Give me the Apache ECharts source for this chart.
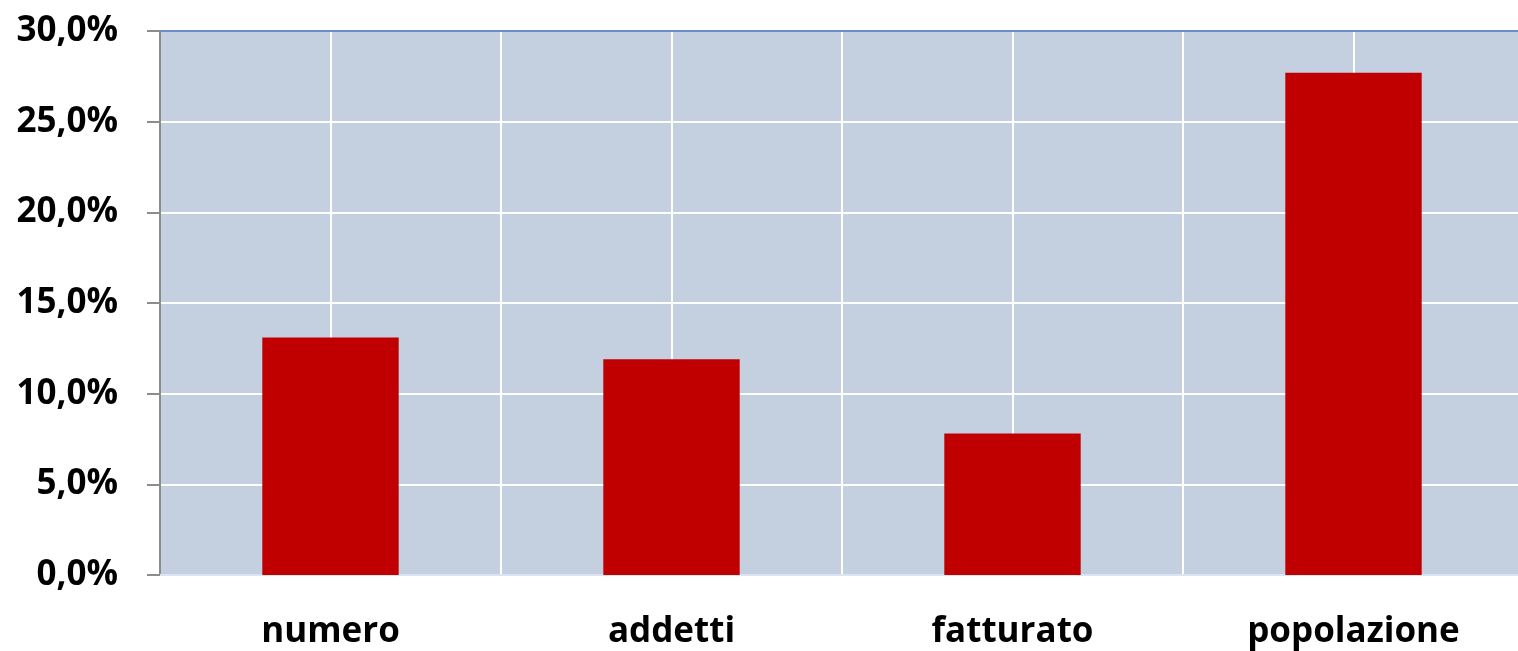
<!DOCTYPE html>
<html>
<head>
<meta charset="utf-8">
<script src="https://cdn.jsdelivr.net/npm/echarts@6/dist/echarts.min.js"></script>
<style>
  html, body { margin: 0; padding: 0; background: #fff; overflow: hidden; }
  #chart { width: 1524px; height: 651px; }
</style>
</head>
<body>
<div id="chart"></div>
<script>
// categories and values (percent)
const categories = ["numero", "addetti", "fatturato", "popolazione"];
const values = [13.1, 11.9, 7.8, 27.7];
// half-category slots, only used to draw vertical grid lines
const halfSlots = ["a", "b", "c", "d", "e", "f", "g", "h"];

const myChart = echarts.init(document.getElementById("chart"));
const labelFont = { fontFamily: "Open Sans", fontWeight: "bold", fontSize: 35, color: "#000" };

const option = {
  animation: false,
  grid: {
    left: 160,
    top: 31,
    width: 1364,
    height: 544,
    show: true,
    backgroundColor: "#c4cfdf",
    borderWidth: 0
  },
  xAxis: [
    {
      type: "category",
      data: categories,
      axisLine: { show: true, lineStyle: { color: "#dbe4f0", width: 2 } },
      axisTick: { show: false },
      splitLine: { show: false },
      axisLabel: { ...labelFont, margin: 40 }
    },
    {
      type: "category",
      data: halfSlots,
      position: "bottom",
      axisLine: { show: false },
      axisTick: { show: false },
      axisLabel: { show: false },
      splitLine: { show: true, interval: 0, lineStyle: { color: "#ffffff", width: 2 } }
    },
    {
      type: "category",
      data: categories,
      position: "top",
      axisLine: { show: true, lineStyle: { color: "#6a8fc4", width: 2 } },
      axisTick: { show: false },
      axisLabel: { show: false }
    }
  ],
  yAxis: {
    type: "value",
    min: 0,
    max: 30,
    interval: 5,
    axisLine: { show: true, lineStyle: { color: "#8c8c8c", width: 2 } },
    axisTick: { show: true, length: 13, lineStyle: { color: "#8c8c8c", width: 2 } },
    splitLine: { show: true, lineStyle: { color: "#ffffff", width: 2 } },
    axisLabel: {
      ...labelFont,
      margin: 42,
      formatter: (v) => v.toFixed(1).replace(".", ",") + "%"
    }
  },
  series: [
    {
      type: "bar",
      xAxisIndex: 0,
      data: values,
      barWidth: "40%",
      itemStyle: { color: "#c00000" }
    }
  ]
};
myChart.setOption(option);
</script>
</body>
</html>
